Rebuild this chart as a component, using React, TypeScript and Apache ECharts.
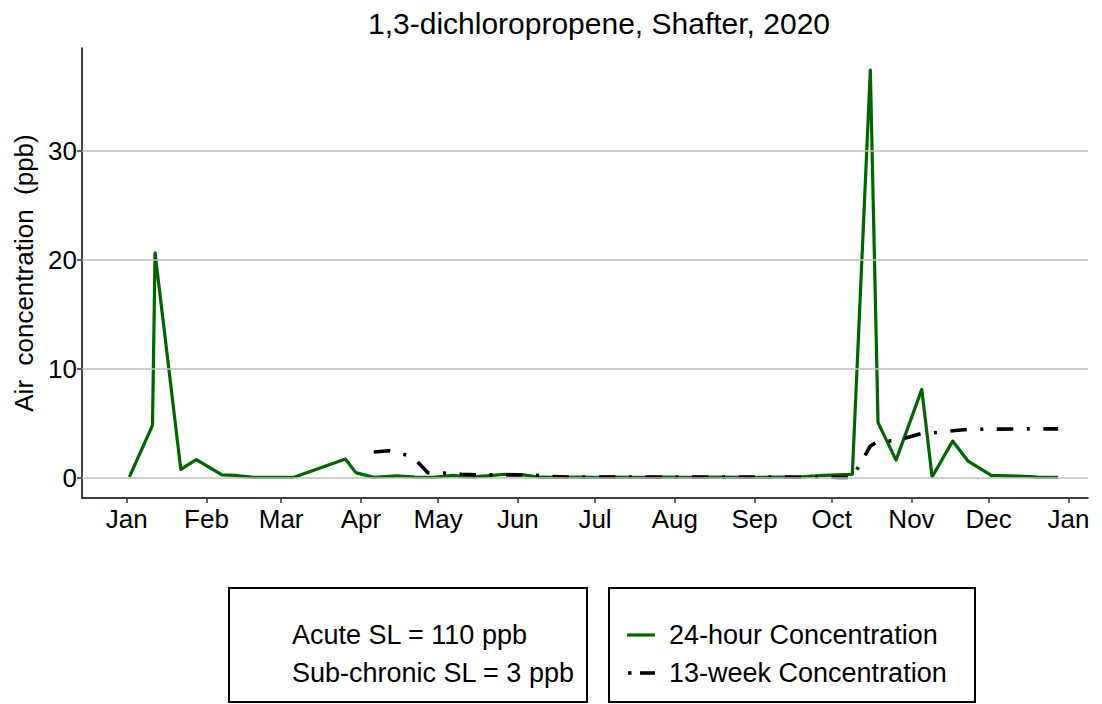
import React, { useEffect, useRef } from "react";
import * as echarts from "echarts";

const TITLE = "1,3-dichloropropene, Shafter, 2020";
const Y_NAME = "Air  concentration  (ppb)";
const MONTH_LABELS = ["Jan", "Feb", "Mar", "Apr", "May", "Jun", "Jul", "Aug", "Sep", "Oct", "Nov", "Dec"];
const MONTH_TICKS = [
  "2020-01-01", "2020-02-01", "2020-03-01", "2020-04-01", "2020-05-01", "2020-06-01", "2020-07-01",
  "2020-08-01", "2020-09-01", "2020-10-01", "2020-11-01", "2020-12-01", "2021-01-01",
];
const Y_TICKS = [0, 10, 20, 30];

const SERIES_24H = "24-hour Concentration";
const SERIES_13W = "13-week Concentration";

const dates24 = [
  "2020-01-02", "2020-01-11", "2020-01-12", "2020-01-22", "2020-01-28", "2020-02-07", "2020-02-12",
  "2020-02-19", "2020-02-26", "2020-03-06", "2020-03-26", "2020-03-30", "2020-04-06", "2020-04-15",
  "2020-04-22", "2020-04-29", "2020-05-07", "2020-05-13", "2020-05-20", "2020-05-27", "2020-06-03",
  "2020-06-10", "2020-06-17", "2020-06-24", "2020-07-01", "2020-07-08", "2020-07-15", "2020-07-22",
  "2020-07-29", "2020-08-05", "2020-08-12", "2020-08-19", "2020-08-26", "2020-09-02", "2020-09-09",
  "2020-09-18", "2020-09-28", "2020-10-09", "2020-10-16", "2020-10-19", "2020-10-26", "2020-11-05",
  "2020-11-09", "2020-11-17", "2020-11-23", "2020-12-02", "2020-12-15", "2020-12-20", "2020-12-28",
];
const values24 = [
  0.05, 4.8, 20.65, 0.75, 1.65, 0.25, 0.2,
  0.02, 0.02, 0.02, 1.7, 0.45, 0.02, 0.15,
  0.05, 0.02, 0.2, 0.03, 0.15, 0.3, 0.25,
  0.03, 0.02, 0.03, 0.02, 0.03, 0.02, 0.02,
  0.03, 0.02, 0.02, 0.03, 0.02, 0.02, 0.03,
  0.03, 0.2, 0.3, 37.45, 5.05, 1.6, 8.1,
  0.05, 3.35, 1.5, 0.2, 0.12, 0.03, 0.02,
];

const dates13 = [
  "2020-04-06", "2020-04-12", "2020-04-19", "2020-04-23", "2020-04-27", "2020-05-03", "2020-05-10",
  "2020-05-17", "2020-05-24", "2020-05-31", "2020-06-07", "2020-06-14", "2020-06-21", "2020-06-28",
  "2020-07-05", "2020-07-12", "2020-07-19", "2020-07-26", "2020-08-02", "2020-08-09", "2020-08-16",
  "2020-08-23", "2020-08-30", "2020-09-06", "2020-09-13", "2020-09-20", "2020-09-27", "2020-10-04",
  "2020-10-09", "2020-10-16", "2020-10-19", "2020-10-26", "2020-11-05", "2020-11-09", "2020-11-17",
  "2020-11-23", "2020-12-02", "2020-12-15", "2020-12-20", "2020-12-28",
];
const values13 = [
  2.35, 2.47, 2.05, 1.45, 0.45, 0.42, 0.3,
  0.25, 0.25, 0.25, 0.22, 0.1, 0.05, 0.04,
  0.04, 0.04, 0.04, 0.04, 0.04, 0.04, 0.04,
  0.04, 0.04, 0.04, 0.04, 0.03, 0.03, 0.02,
  0.0, 2.9, 3.3, 3.4, 4.05, 4.1, 4.3,
  4.42, 4.45, 4.47, 4.47, 4.47,
];

const LEGEND_NOTES = ["Acute SL = 110 ppb", "Sub-chronic SL = 3 ppb"];

const GREEN = "#006400";
const DOTDASH = [16.5, 13.5, 3, 13.5];
const FONT = "Liberation Sans, Arial, sans-serif";

const ts = (s: string) => {
  const [y, m, d] = s.split("-").map(Number);
  return Date.UTC(y, m - 1, d);
};
const DAY = 86400000;

export default function App() {
  const ref = useRef<HTMLDivElement>(null);
  useEffect(() => {
    if (!ref.current) return;
    const chart = echarts.init(ref.current, null, { renderer: "svg" });
    const jan1 = ts("2020-01-01");
    const xMin = jan1 - 17.4 * DAY;
    const xMax = jan1 + 373.6 * DAY;
    const tickVals = MONTH_TICKS.map(ts);
    const legendText = (x: number, y: number, text: string) => ({
      type: "text",
      x,
      y,
      style: { text, fontSize: 27, fontFamily: FONT, fill: "#000", verticalAlign: "middle" },
    });
    const option: any = {
      animation: false,
      backgroundColor: "#ffffff",
      textStyle: { fontFamily: FONT },
      title: {
        text: TITLE,
        left: 594,
        textAlign: "center",
        top: 3,
        textStyle: { fontFamily: FONT, fontSize: 30, fontWeight: "normal", color: "#000" },
      },
      grid: { left: 82, right: 14, top: 48, bottom: 206, containLabel: false },
      xAxis: {
        type: "value",
        min: xMin,
        max: xMax,
        axisLine: { show: true, onZero: false, lineStyle: { color: "#000", width: 1.5 } },
        axisTick: { show: true, length: 5, customValues: tickVals, lineStyle: { color: "#333", width: 1.5 } },
        axisLabel: {
          customValues: tickVals,
          formatter: (v: number) => MONTH_LABELS[new Date(v).getUTCMonth()],
          fontSize: 26,
          color: "#000",
          margin: 8,
          fontFamily: FONT,
          showMinLabel: true,
          showMaxLabel: true,
        },
        splitLine: { show: false },
      },
      yAxis: {
        type: "value",
        min: -1.88,
        max: 39.48,
        name: Y_NAME,
        nameLocation: "middle",
        nameGap: 42,
        nameTextStyle: { fontSize: 26, color: "#000", fontFamily: FONT },
        axisLine: { show: true, lineStyle: { color: "#000", width: 1.5 } },
        axisTick: { show: true, length: 5, customValues: Y_TICKS, lineStyle: { color: "#333", width: 1.5 } },
        axisLabel: { customValues: Y_TICKS, fontSize: 26, color: "#000", margin: 5, fontFamily: FONT },
        splitLine: { show: false },
      },
      series: [
        {
          type: "line",
          name: "grid",
          data: [],
          z: 1,
          silent: true,
          markLine: {
            silent: true,
            symbol: ["none", "none"],
            label: { show: false },
            lineStyle: { color: "#BEBEBE", type: "solid", width: 1.6 },
            data: Y_TICKS.map((v) => ({ yAxis: v })),
          },
        },
        {
          type: "line",
          name: SERIES_24H,
          data: dates24.map((d, i) => [ts(d), values24[i]]),
          showSymbol: false,
          z: 3,
          lineStyle: { color: GREEN, width: 3.2, join: "round" },
          itemStyle: { color: GREEN },
        },
        {
          type: "line",
          name: SERIES_13W,
          data: dates13.map((d, i) => [ts(d), values13[i]]),
          showSymbol: false,
          z: 4,
          lineStyle: { color: "#000", width: 3.6, type: DOTDASH, cap: "butt", join: "round" },
          itemStyle: { color: "#000" },
        },
      ],
      graphic: [
        { type: "rect", shape: { x: 229, y: 588, width: 358, height: 114 }, style: { fill: "none", stroke: "#000", lineWidth: 2 } },
        { type: "rect", shape: { x: 609, y: 588, width: 366, height: 114 }, style: { fill: "none", stroke: "#000", lineWidth: 2 } },
        legendText(292, 635, LEGEND_NOTES[0]),
        legendText(292, 673, LEGEND_NOTES[1]),
        { type: "line", shape: { x1: 627, y1: 635, x2: 655, y2: 635 }, style: { stroke: GREEN, lineWidth: 3.2 } },
        { type: "line", shape: { x1: 628, y1: 673, x2: 631.5, y2: 673 }, style: { stroke: "#000", lineWidth: 3.6 } },
        { type: "line", shape: { x1: 640, y1: 673, x2: 655, y2: 673 }, style: { stroke: "#000", lineWidth: 3.6 } },
        legendText(669, 635, SERIES_24H),
        legendText(669, 673, SERIES_13W),
      ],
    };
    chart.setOption(option);
    return () => chart.dispose();
  }, []);
  return (
    <div
      ref={ref}
      style={{ position: "fixed", left: 0, top: 0, width: 1102, height: 704, background: "#fff" }}
    />
  );
}
